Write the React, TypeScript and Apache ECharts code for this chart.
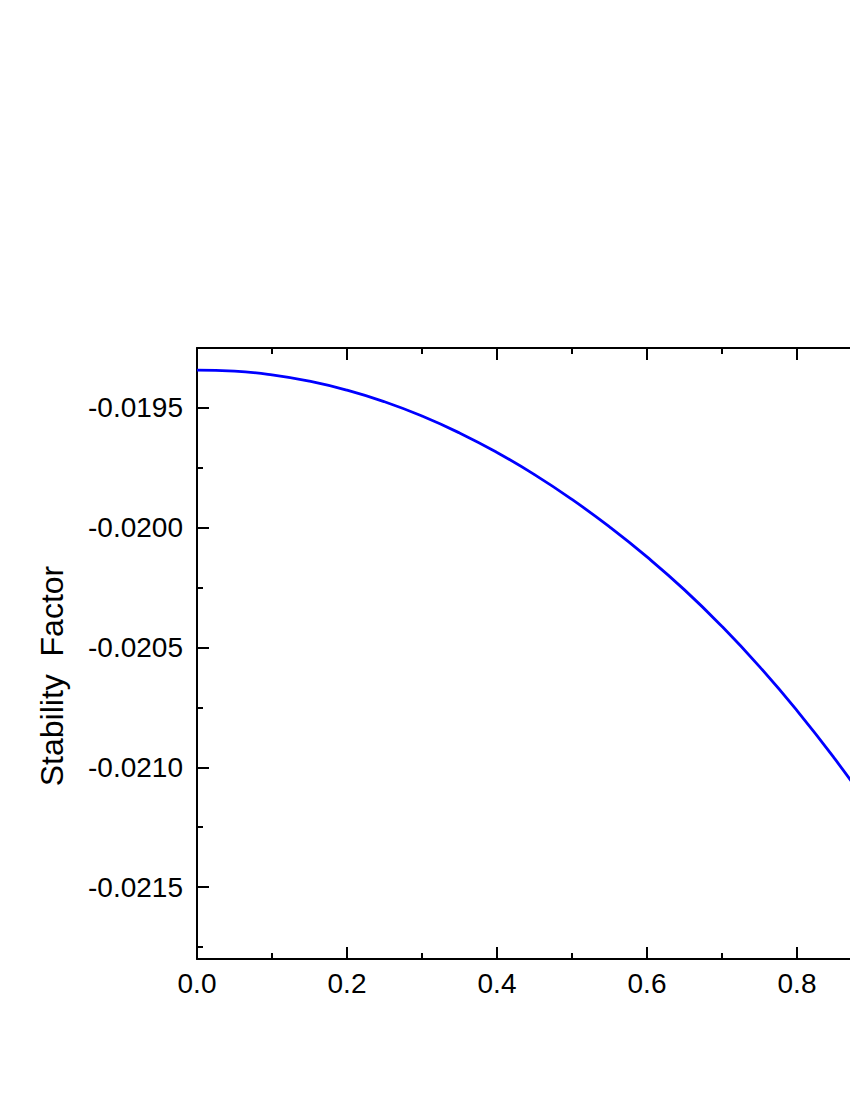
import React, { useEffect, useRef } from "react";
import * as echarts from "echarts";

const xValues = [0, 0.05, 0.1, 0.15, 0.2, 0.25, 0.3, 0.35, 0.4, 0.45, 0.5, 0.55, 0.6, 0.65, 0.7, 0.75, 0.8, 0.85, 0.9];
const stabilityFactor = [
  -0.019342, -0.0193465, -0.019362, -0.0193885, -0.019426, -0.0194745, -0.019534, -0.0196045,
  -0.019686, -0.0197785, -0.019882, -0.0199965, -0.020122, -0.0202595, -0.020412, -0.0205795,
  -0.020763, -0.020963, -0.0211795,
];
const yMajorTicks = [-0.0215, -0.021, -0.0205, -0.02, -0.0195];
const yMinorTicks = [-0.02175, -0.02125, -0.02075, -0.02025, -0.01975];
const yLabel = "Stability  Factor";

const FONT = "Liberation Sans, Arial, sans-serif";

export default function App() {
  const ref = useRef<HTMLDivElement>(null);
  useEffect(() => {
    if (!ref.current) return;
    const chart = echarts.init(ref.current, null, { renderer: "svg" });
    const axisLine = { show: true, onZero: false, lineStyle: { color: "#000", width: 2 } };
    chart.setOption({
      animation: false,
      backgroundColor: "#fff",
      grid: { left: 197, top: 348, bottom: 141, right: 53 },
      xAxis: [
        {
          type: "value",
          position: "bottom",
          min: 0,
          max: 1,
          interval: 0.2,
          axisLine,
          axisTick: { show: true, inside: true, length: 12, lineStyle: { color: "#000", width: 2 } },
          minorTick: { show: true, splitNumber: 2, length: 6, lineStyle: { color: "#000", width: 2 } },
          splitLine: { show: false },
          axisLabel: {
            show: true,
            margin: 10,
            color: "#000",
            fontSize: 28,
            fontFamily: FONT,
            showMaxLabel: false,
            formatter: (v: number) => v.toFixed(1),
          },
        },
        {
          type: "value",
          position: "top",
          min: 0,
          max: 1,
          interval: 0.2,
          axisLine,
          axisTick: { show: true, inside: true, length: 12, lineStyle: { color: "#000", width: 2 } },
          minorTick: { show: true, splitNumber: 2, length: 6, lineStyle: { color: "#000", width: 2 } },
          splitLine: { show: false },
          axisLabel: { show: false },
        },
      ],
      yAxis: [
        {
          type: "value",
          position: "left",
          min: -0.0218,
          max: -0.01925,
          axisLine,
          axisTick: {
            show: true,
            inside: true,
            length: 12,
            customValues: yMajorTicks,
            lineStyle: { color: "#000", width: 2 },
          },
          splitLine: { show: false },
          axisLabel: {
            show: true,
            margin: 14,
            color: "#000",
            fontSize: 28,
            fontFamily: FONT,
            customValues: yMajorTicks,
            formatter: (v: number) => v.toFixed(4),
          },
        },
        {
          type: "value",
          position: "left",
          min: -0.0218,
          max: -0.01925,
          axisLine: { show: false },
          axisTick: {
            show: true,
            inside: true,
            length: 6,
            customValues: yMinorTicks,
            lineStyle: { color: "#000", width: 2 },
          },
          splitLine: { show: false },
          axisLabel: { show: false },
        },
      ],
      graphic: [
        {
          type: "text",
          x: 52,
          y: 676,
          rotation: Math.PI / 2,
          style: {
            text: yLabel,
            fill: "#000",
            font: `32px ${FONT}`,
            textAlign: "center",
            textVerticalAlign: "middle",
          },
        },
      ],
      series: [
        {
          type: "line",
          xAxisIndex: 0,
          yAxisIndex: 0,
          data: xValues.map((x, i) => [x, stabilityFactor[i]]),
          showSymbol: false,
          smooth: true,
          lineStyle: { color: "#0000ff", width: 2.8 },
        },
      ],
    });
    return () => chart.dispose();
  }, []);
  return (
    <div style={{ position: "fixed", left: 0, top: 0, width: 850, height: 1100, overflow: "hidden", background: "#fff" }}>
      <div ref={ref} style={{ position: "absolute", left: 0, top: 0, width: 1000, height: 1100 }} />
    </div>
  );
}
